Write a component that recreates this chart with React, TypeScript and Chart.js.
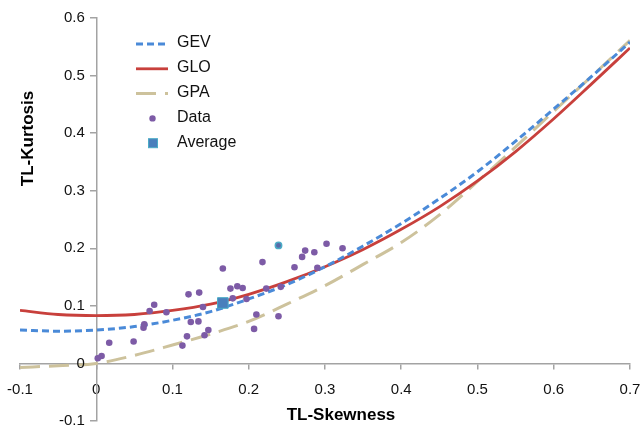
import React, { useEffect, useRef } from "react";
import { Chart, registerables } from "chart.js";

Chart.register(...registerables);

// TL-Skewness grid used for the theoretical curves
const skewGrid = [-0.1, -0.05, 0, 0.05, 0.1, 0.15, 0.2, 0.25, 0.3, 0.35, 0.4, 0.45, 0.5, 0.55, 0.6, 0.65, 0.7];
const gevKurt = [0.058, 0.056, 0.058, 0.064, 0.075, 0.09, 0.112, 0.137, 0.168, 0.204, 0.243, 0.286, 0.333, 0.386, 0.442, 0.499, 0.558];
const gloKurt = [0.092, 0.085, 0.083, 0.085, 0.092, 0.103, 0.12, 0.142, 0.168, 0.198, 0.233, 0.272, 0.317, 0.368, 0.425, 0.486, 0.548];
const gpaKurt = [-0.007, -0.004, 0.0, 0.014, 0.032, 0.051, 0.073, 0.103, 0.135, 0.172, 0.21, 0.258, 0.316, 0.376, 0.438, 0.499, 0.561];

// Observed sample TL-moment ratios
const dataSkew = [0.166, 0.218, 0.302, 0.323, 0.274, 0.286, 0.27, 0.26, 0.29, 0.121, 0.135, 0.176, 0.185, 0.192, 0.223, 0.242, 0.14, 0.179, 0.197, 0.076, 0.07, 0.092, 0.124, 0.134, 0.063, 0.062, 0.21, 0.239, 0.207, 0.147, 0.119, 0.142, 0.113, 0.017, 0.049, 0.007, 0.002];
const dataKurt = [0.165, 0.176, 0.208, 0.2, 0.196, 0.193, 0.185, 0.167, 0.166, 0.12, 0.123, 0.13, 0.134, 0.131, 0.13, 0.133, 0.098, 0.113, 0.112, 0.102, 0.091, 0.089, 0.072, 0.073, 0.068, 0.062, 0.085, 0.082, 0.06, 0.058, 0.047, 0.049, 0.031, 0.036, 0.038, 0.013, 0.009];

// Highlighted site
const markedSkew = [0.239];
const markedKurt = [0.205];

// Regional average
const avgSkew = [0.166];
const avgKurt = [0.105];

const xTickMin = -0.1;
const xTickMax = 0.7;
const yTickMin = -0.1;
const yTickMax = 0.6;

const FONT = "'Liberation Sans', Arial, Helvetica, sans-serif";

const pts = (xs: number[], ys: number[]) => xs.map((x, i) => ({ x, y: ys[i] }));
const fmt = (v: number) => String(Number(Number(v).toFixed(1)));

const overlayPlugin = {
  id: "overlay",
  afterDraw(chart: any) {
    const ctx = chart.ctx as CanvasRenderingContext2D;
    ctx.save();

    // y tick labels, left of the y axis (placed at x = 0)
    const ys = chart.scales.y;
    const xs = chart.scales.x;
    const axisX = xs.getPixelForValue(0);
    ctx.fillStyle = "#111";
    ctx.font = `15px ${FONT}`;
    ctx.textAlign = "right";
    ctx.textBaseline = "middle";
    ys.ticks.forEach((t: any) => {
      ctx.fillText(fmt(t.value), axisX - 11.5, ys.getPixelForValue(t.value));
    });

    // axis titles
    ctx.fillStyle = "#000";
    ctx.font = `bold 17px ${FONT}`;
    ctx.textAlign = "center";
    ctx.textBaseline = "middle";
    ctx.fillText("TL-Skewness", 341, 415);
    ctx.save();
    ctx.translate(28.5, 138.5);
    ctx.rotate(-Math.PI / 2);
    ctx.fillText("TL-Kurtosis", 0, 0);
    ctx.restore();

    // legend
    const x0 = 136;
    const x1 = 168;
    const tx = 177;
    const y0 = 44;
    const dy = 24.8;
    const dsets = chart.data.datasets;
    const order = [0, 1, 2, 3, 5];
    order.forEach((di: number, k: number) => {
      const ds = dsets[di];
      const y = y0 + k * dy;
      if (ds.showLine) {
        ctx.save();
        ctx.strokeStyle = ds.borderColor;
        ctx.lineWidth = ds.borderWidth;
        ctx.setLineDash(ds.borderDash || []);
        ctx.beginPath();
        ctx.moveTo(x0, y);
        ctx.lineTo(di === 0 ? 165 : x1, y);
        ctx.stroke();
        ctx.restore();
      } else if (ds.pointStyle === "rect") {
        ctx.save();
        ctx.fillStyle = ds.pointBackgroundColor;
        ctx.strokeStyle = ds.pointBorderColor;
        ctx.lineWidth = 1;
        ctx.fillRect(148.5, y - 4.5, 9, 9);
        ctx.strokeRect(148.5, y - 4.5, 9, 9);
        ctx.restore();
      } else {
        ctx.save();
        ctx.fillStyle = ds.pointBackgroundColor;
        ctx.beginPath();
        ctx.arc(152.5, y, 3.2, 0, Math.PI * 2);
        ctx.fill();
        ctx.restore();
      }
      ctx.fillStyle = "#111";
      ctx.font = `16px ${FONT}`;
      ctx.textAlign = "left";
      ctx.textBaseline = "middle";
      ctx.fillText(ds.label, tx, y - 1);
    });
    ctx.restore();
  },
};

export default function App() {
  const ref = useRef<HTMLCanvasElement | null>(null);
  useEffect(() => {
    if (!ref.current) return;
    const axisColor = "#a3a3a3";
    const chart = new Chart(ref.current, {
      type: "scatter",
      data: {
        datasets: [
          {
            label: "GEV",
            data: pts(skewGrid, gevKurt),
            showLine: true,
            borderColor: "#4a8ad8",
            borderWidth: 3,
            borderDash: [7, 4],
            pointRadius: 0,
            cubicInterpolationMode: "monotone",
            order: 3,
          },
          {
            label: "GLO",
            data: pts(skewGrid, gloKurt),
            showLine: true,
            borderColor: "#c8403c",
            borderWidth: 2.8,
            pointRadius: 0,
            cubicInterpolationMode: "monotone",
            order: 4,
          },
          {
            label: "GPA",
            data: pts(skewGrid, gpaKurt),
            showLine: true,
            borderColor: "#cdc29c",
            borderWidth: 3,
            borderDash: [20, 9],
            pointRadius: 0,
            cubicInterpolationMode: "monotone",
            order: 5,
          },
          {
            label: "Data",
            data: pts(dataSkew, dataKurt),
            showLine: false,
            pointRadius: 3.3,
            pointBackgroundColor: "#7d5ba6",
            pointBorderColor: "#7d5ba6",
            pointBorderWidth: 0,
            order: 2,
          },
          {
            label: "Marked",
            data: pts(markedSkew, markedKurt),
            showLine: false,
            pointRadius: 3.2,
            pointBackgroundColor: "#5a6aa8",
            pointBorderColor: "#4bacc6",
            pointBorderWidth: 1.5,
            order: 1,
          },
          {
            label: "Average",
            data: pts(avgSkew, avgKurt),
            showLine: false,
            pointStyle: "rect",
            pointRadius: 7.5,
            pointBackgroundColor: "#4a7fbc",
            pointBorderColor: "#4bacc6",
            pointBorderWidth: 1,
            order: 0,
          },
        ],
      },
      options: {
        animation: false,
        responsive: true,
        maintainAspectRatio: false,
        layout: { padding: { left: 20, right: 14, top: 18, bottom: 10 } },
        plugins: {
          legend: { display: false },
          tooltip: { enabled: false },
        },
        scales: {
          x: {
            type: "linear",
            min: xTickMin,
            max: xTickMax,
            position: { y: 0 },
            afterFit: (scale: any) => {
              scale.paddingLeft = 0;
              scale.paddingRight = 0;
              scale.paddingTop = 0;
              scale.paddingBottom = 0;
            },
            grid: {
              drawOnChartArea: false,
              drawTicks: true,
              tickLength: 5,
              color: axisColor,
              lineWidth: 1.5,
            },
            border: { display: true, color: axisColor, width: 1.5 },
            ticks: {
              stepSize: 0.1,
              color: "#111",
              font: { family: FONT, size: 15 },
              padding: 12,
              callback: (v: any) => fmt(v),
            },
          },
          y: {
            type: "linear",
            min: yTickMin,
            max: yTickMax,
            position: { x: 0 },
            afterFit: (scale: any) => {
              scale.paddingLeft = 0;
              scale.paddingRight = 0;
              scale.paddingTop = 0;
              scale.paddingBottom = 0;
            },
            grid: {
              drawOnChartArea: false,
              drawTicks: true,
              tickLength: 6,
              color: axisColor,
              lineWidth: 1.5,
            },
            border: { display: true, color: axisColor, width: 1.5 },
            ticks: {
              stepSize: 0.1,
              display: false,
            },
          },
        },
      },
      plugins: [overlayPlugin],
    } as any);
    return () => chart.destroy();
  }, []);
  return (
    <div style={{ position: "fixed", left: 0, top: 0, width: 644, height: 431, background: "#fff" }}>
      <canvas ref={ref} />
    </div>
  );
}
